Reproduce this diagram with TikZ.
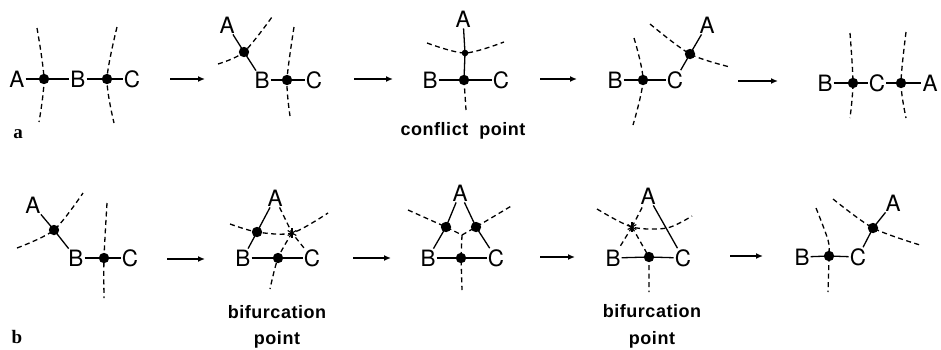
\documentclass[tikz,border=0pt]{standalone}
\usepackage{fontspec}
\usetikzlibrary{arrows.meta}
\newfontfamily\lblfont{TeX Gyre Heros}
\newfontfamily\capfont[LetterSpace=3]{Liberation Sans}
\newfontfamily\panelfont{Liberation Serif}
\tikzset{
  lt/.style={font=\lblfont\fontsize{22.5}{22.5}\selectfont, inner sep=1pt},
  captxt/.style={font=\capfont\bfseries\fontsize{18}{18}\selectfont, inner sep=0pt, anchor=base},
  panel/.style={font=\panelfont\bfseries\fontsize{19}{19}\selectfont, inner sep=0pt, anchor=base},
  sol/.style={line width=1.3pt},
  dsh/.style={line width=1.3pt, dash pattern=on 5pt off 3.5pt},
  arr/.style={line width=1.9pt, -{Latex[length=7pt,width=6pt]}},
}
\newcommand{\bigdot}[1]{\fill (#1) circle (5.2pt);}
\newcommand{\smalldot}[1]{\fill (#1) circle (3.3pt);}
\newcommand{\astmark}[1]{\foreach \ang in {90,30,150} {\draw[line width=1.1pt] (#1) ++(\ang:5pt) -- ++(\ang+180:10pt);}}
\begin{document}
\begin{tikzpicture}[x=1pt,y=-1pt]
\useasboundingbox (0,0) rectangle (941,349);

%%%%%%%%%%%%%%%% Row a %%%%%%%%%%%%%%%%
\node[panel] (la) at (18,138) {a};

% panel a1
\node[lt] (a1A) at (17,79) {A};
\node[lt] (a1B) at (78,79) {B};
\node[lt] (a1C) at (132,79) {C};
\coordinate (a1d1) at (44,79);
\coordinate (a1d2) at (107,79);
\draw[sol] (a1A) -- (a1d1) -- (a1B);
\draw[sol] (a1B) -- (a1d2) -- (a1C);
\draw[dsh] plot[smooth] coordinates {(37,28) (a1d1) (39,122)};
\draw[dsh] plot[smooth] coordinates {(117,27) (a1d2) (114,123)};
\bigdot{a1d1}\bigdot{a1d2}

% arrow
\coordinate (ar1s) at (170,79); \coordinate (ar1e) at (205,79);
\draw[arr] (ar1s) -- (ar1e);

% panel a2
\node[lt] (a2A) at (227,25) {A};
\node[lt] (a2B) at (262,80) {B};
\node[lt] (a2C) at (314,80) {C};
\coordinate (a2d1) at (244,52);
\coordinate (a2d2) at (287,80);
\draw[sol] (a2A) -- (a2d1) -- (a2B);
\draw[sol] (a2B) -- (a2d2) -- (a2C);
\draw[dsh] plot[smooth] coordinates {(218,64) (a2d1) (272,17)};
\draw[dsh] plot[smooth] coordinates {(294,27) (a2d2) (290,116)};
\bigdot{a2d1}\bigdot{a2d2}

\coordinate (ar2s) at (354,79); \coordinate (ar2e) at (393,79);
\draw[arr] (ar2s) -- (ar2e);

% panel a3
\node[lt] (a3A) at (463,19) {A};
\node[lt] (a3B) at (430,80) {B};
\node[lt] (a3C) at (501,80) {C};
\coordinate (a3s) at (465,53);
\coordinate (a3d) at (464,80);
\coordinate (a3bot) at (466,110);
\draw[sol] (a3A) -- (a3s) -- (a3d);
\draw[sol] (a3B) -- (a3d) -- (a3C);
\draw[dsh] plot[smooth] coordinates {(427,43) (a3s) (504,42)};
\draw[dsh] (a3d) -- (a3bot);
\smalldot{a3s}\bigdot{a3d}
\node[captxt] (cp) at (463,135) {conflict\hspace{11pt}point};

\coordinate (ar3s) at (540,79); \coordinate (ar3e) at (577,79);
\draw[arr] (ar3s) -- (ar3e);

% panel a4
\node[lt] (a4A) at (707,25) {A};
\node[lt] (a4B) at (615,80) {B};
\node[lt] (a4C) at (675,80) {C};
\coordinate (a4d1) at (643,80);
\coordinate (a4d2) at (690,54);
\draw[sol] (a4B) -- (a4d1) -- (a4C);
\draw[sol] (a4C) -- (a4d2) -- (a4A);
\draw[dsh] plot[smooth] coordinates {(634,38) (a4d1) (633,125)};
\draw[dsh] plot[smooth] coordinates {(650,24) (a4d2) (730,67)};
\bigdot{a4d1}\bigdot{a4d2}

\coordinate (ar4s) at (738,81); \coordinate (ar4e) at (778,81);
\draw[arr] (ar4s) -- (ar4e);

% panel a5
\node[lt] (a5B) at (825,83) {B};
\node[lt] (a5C) at (877,83) {C};
\node[lt] (a5A) at (930,83) {A};
\coordinate (a5d1) at (853,83);
\coordinate (a5d2) at (901,83);
\draw[sol] (a5B) -- (a5d1) -- (a5C);
\draw[sol] (a5C) -- (a5d2) -- (a5A);
\draw[dsh] plot[smooth] coordinates {(850,33) (a5d1) (850,118)};
\draw[dsh] plot[smooth] coordinates {(906,32) (a5d2) (906,118)};
\bigdot{a5d1}\bigdot{a5d2}

%%%%%%%%%%%%%%%% Row b %%%%%%%%%%%%%%%%
\node[panel] (lb) at (17,343) {b};

% panel b1
\node[lt] (b1A) at (33,205) {A};
\node[lt] (b1B) at (76,258) {B};
\node[lt] (b1C) at (130,258) {C};
\coordinate (b1d1) at (54,230);
\coordinate (b1d2) at (104,258);
\draw[sol] (b1A) -- (b1d1) -- (b1B);
\draw[sol] (b1B) -- (b1d2) -- (b1C);
\draw[dsh] plot[smooth] coordinates {(17,248) (b1d1) (83,193)};
\draw[dsh] plot[smooth] coordinates {(107,203) (b1d2) (104,298)};
\bigdot{b1d1}\bigdot{b1d2}

\coordinate (br1s) at (167,259); \coordinate (br1e) at (205,259);
\draw[arr] (br1s) -- (br1e);

% panel b2
\node[lt] (b2A) at (275,198) {A};
\node[lt] (b2B) at (243,258) {B};
\node[lt] (b2C) at (312,258) {C};
\coordinate (b2dL) at (257,232);
\coordinate (b2dB) at (278,258);
\coordinate (b2s) at (292,233);
\draw[sol] (b2A) -- (b2dL) -- (b2B);
\draw[sol] (b2B) -- (b2dB) -- (b2C);
\draw[dsh] plot[smooth] coordinates {(230,224) (b2dL) (b2s) (328,213)};
\draw[dsh] (b2A) -- (b2s) -- (b2C);
\draw[dsh] plot[smooth] coordinates {(b2s) (b2dB) (270,289)};
\bigdot{b2dL}\bigdot{b2dB}\astmark{b2s}
\node[captxt] (bp1a) at (277,318) {bifurcation};
\node[captxt] (bp1b) at (277,344) {point};

\coordinate (br2s) at (353,258); \coordinate (br2e) at (391,258);
\draw[arr] (br2s) -- (br2e);

% panel b3
\node[lt] (b3A) at (460,193) {A};
\node[lt] (b3B) at (428,258) {B};
\node[lt] (b3C) at (496,258) {C};
\coordinate (b3dL) at (446,227);
\coordinate (b3dR) at (476,227);
\coordinate (b3J) at (462,235);
\coordinate (b3dB) at (461,258);
\draw[sol] (b3A) -- (b3dL) -- (b3B);
\draw[sol] (b3A) -- (b3dR) -- (b3C);
\draw[sol] (b3B) -- (b3dB) -- (b3C);
\draw[dsh] (408,210) -- (b3dL) -- (b3J) -- (b3dR) -- (513,205);
\draw[dsh] (b3J) -- (b3dB) -- (462,290);
\bigdot{b3dL}\bigdot{b3dR}\bigdot{b3dB}

\coordinate (br3s) at (540,257); \coordinate (br3e) at (575,257);
\draw[arr] (br3s) -- (br3e);

% panel b4
\node[lt] (b4A) at (648,196) {A};
\node[lt] (b4B) at (613,258) {B};
\node[lt] (b4C) at (683,258) {C};
\coordinate (b4s) at (632,227);
\coordinate (b4dB) at (649,257);
\draw[sol] (b4A) -- (b4C);
\draw[sol] (b4B) -- (b4dB) -- (b4C);
\draw[dsh] (b4s) -- (b4A);
\draw[dsh] (b4s) -- (b4B);
\draw[dsh] (b4s) -- (b4dB) -- (649,292);
\draw[dsh] plot[smooth] coordinates {(597,209) (b4s) (667,228) (692,216)};
\bigdot{b4dB}\astmark{b4s}
\node[captxt] (bp2a) at (652,317) {bifurcation};
\node[captxt] (bp2b) at (652,344) {point};

\coordinate (br4s) at (730,256); \coordinate (br4e) at (763,256);
\draw[arr] (br4s) -- (br4e);

% panel b5
\node[lt] (b5B) at (802,257) {B};
\node[lt] (b5C) at (858,257) {C};
\node[lt] (b5A) at (893,203) {A};
\coordinate (b5d1) at (829,256);
\coordinate (b5d2) at (873,228);
\draw[sol] (b5B) -- (b5d1) -- (b5C);
\draw[sol] (b5C) -- (b5d2) -- (b5A);
\draw[dsh] plot[smooth] coordinates {(816,208) (828,240) (b5d1) (828,292)};
\draw[dsh] plot[smooth] coordinates {(833,199) (b5d2) (920,245)};
\bigdot{b5d1}\bigdot{b5d2}
\end{tikzpicture}
\end{document}
